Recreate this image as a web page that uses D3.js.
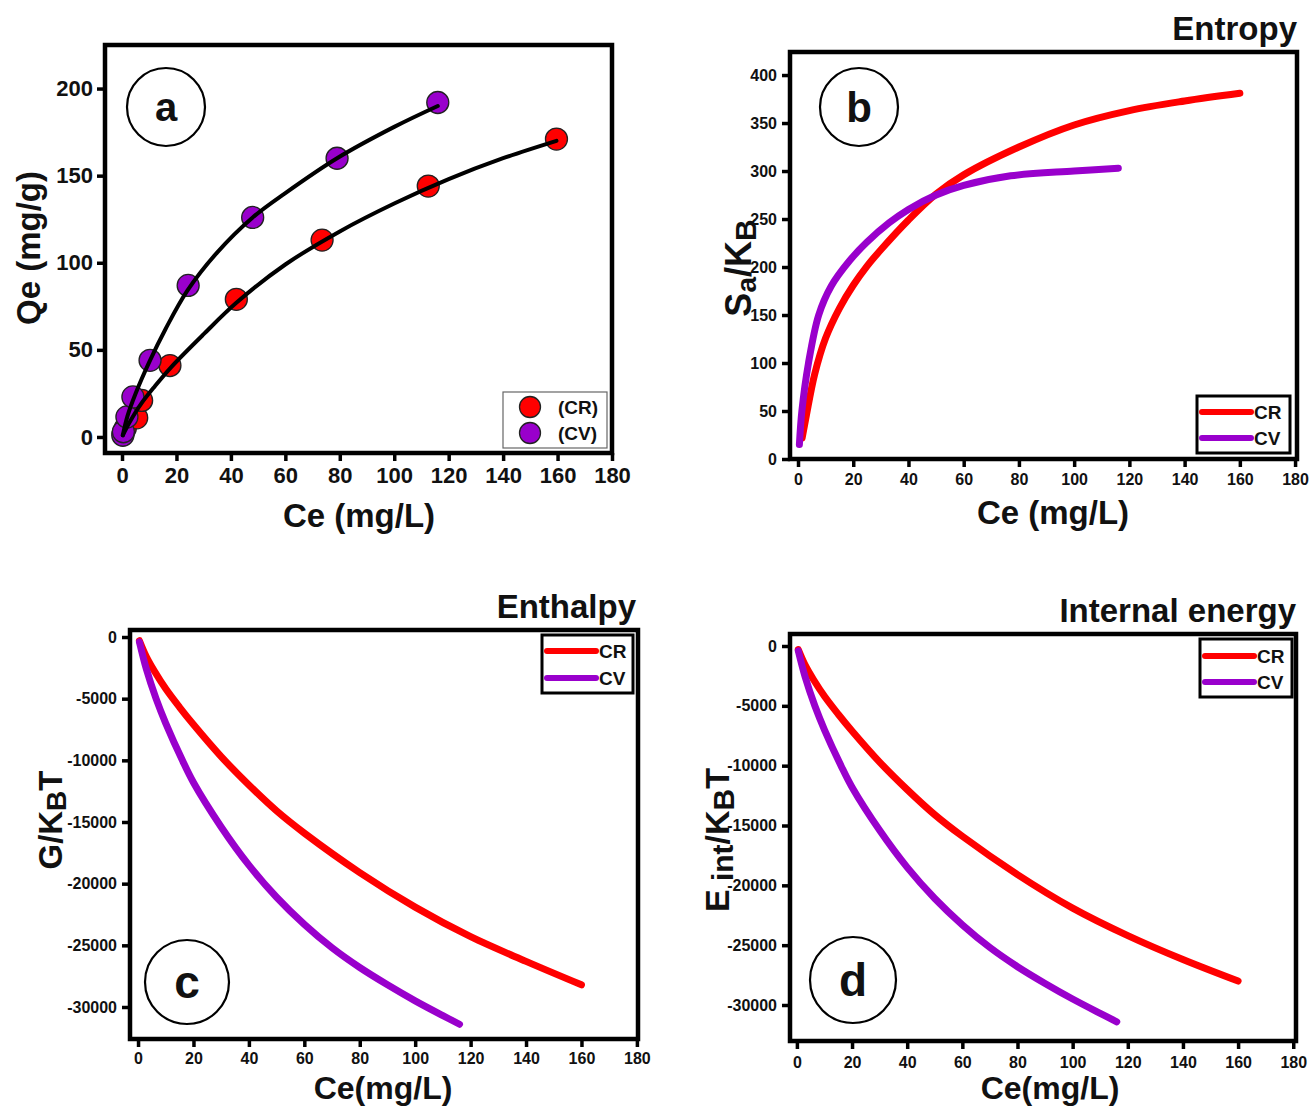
<!DOCTYPE html>
<html>
<head>
<meta charset="utf-8">
<script src="https://cdn.jsdelivr.net/npm/d3@7"></script>
<style>
  body { margin: 0; background: #ffffff; }
  text { font-family: Arial, "Liberation Sans", sans-serif; font-weight: bold; fill: #111; }
</style>
</head>
<body>
<svg id="chart" width="1310" height="1109"></svg>
<script>
// ---- data ----
let ceTicks = [0, 20, 40, 60, 80, 100, 120, 140, 160, 180]
let qeTicks = [0, 50, 100, 150, 200]
let saTicks = [0, 50, 100, 150, 200, 250, 300, 350, 400]
let energyTicks = [0, -5000, -10000, -15000, -20000, -25000, -30000]
let seriesNames = ['CR', 'CV']
let seriesColors = ['#ff0000', '#9900cc']

// (a) experimental isotherm points
let crCe = [0.4, 1.2, 5.4, 7.2, 17.6, 42, 73.5, 112.5, 159.6]
let crQe = [2, 5, 11, 21, 41, 79, 113, 144, 171]
let cvCe = [0.3, 0.5, 1.8, 4, 10.3, 24.3, 48, 79, 116]
let cvQe = [1, 3, 11.5, 23, 44, 87, 126, 160, 192]

// (a) fitted curves
let crFitCe = [0.3, 3, 7, 12, 18, 30, 42, 60, 80, 100, 120, 140, 159.6]
let crFitQe = [1, 9, 19, 29, 40, 59, 77, 99, 118, 134, 148, 160, 170]
let cvFitCe = [0.3, 2, 5, 10, 16, 24, 35, 48, 60, 79, 100, 116]
let cvFitQe = [1, 12, 25, 43, 62, 84, 106, 126, 140, 160, 178, 190]

// (b) entropy Sa/KB
let entCRce = [1.5, 3, 6, 10, 15, 20, 25, 30, 40, 50, 60, 80, 100, 120, 140, 160]
let entCR = [22, 45, 88, 126, 157, 181, 201, 218, 249, 276, 296, 325, 348, 363, 373, 381]
let entCVce = [0.5, 1.4, 3.8, 7.5, 12, 18.8, 25, 33, 40, 50, 60, 77, 100, 116]
let entCV = [15, 50, 100, 150, 180, 207, 226, 246, 260, 275, 285, 295, 300, 303]

// (c) enthalpy G/KBT
let gCRce = [0.5, 3, 6, 10, 15, 20, 30, 40, 50, 60, 80, 100, 120, 140, 160]
let gCR = [-300, -1600, -2800, -4200, -5700, -7100, -9700, -12000, -14100, -15900, -19100, -21900, -24300, -26300, -28200]
let gCVce = [0.5, 3, 6.5, 10, 16, 20, 30, 40, 50, 60, 70, 80, 90, 100, 110, 116]
let gCV = [-400, -2600, -5000, -7000, -10000, -11800, -15400, -18500, -21100, -23300, -25200, -26800, -28200, -29500, -30700, -31400]

// (d) internal energy E int/KBT
let eCRce = [0.5, 3, 6, 10, 15, 20, 30, 40, 50, 60, 80, 100, 120, 140, 160]
let eCR = [-300, -1600, -2800, -4200, -5700, -7100, -9700, -12000, -14100, -15900, -19100, -21900, -24200, -26200, -28000]
let eCVce = [0.5, 3, 6.5, 10, 16, 20, 30, 40, 50, 60, 70, 80, 90, 100, 110, 116]
let eCV = [-400, -2600, -5000, -7000, -10000, -11800, -15400, -18500, -21100, -23300, -25200, -26800, -28200, -29500, -30700, -31400]

let svg = d3.select('#chart')

// zip two arrays into point objects
function pts(xs, ys) {
    return xs.map((v, i) => ({ x: v, y: ys[i] }))
}

// build one framed panel with outward ticks
function makePanel(cfg) {
    let g = svg.append('g')
    let x = d3.scaleLinear().domain(cfg.xDomain).range([cfg.left, cfg.right])
    let y = d3.scaleLinear().domain(cfg.yDomain).range([cfg.bottom, cfg.top])

    let xAxis = g.append('g')
        .attr('transform', `translate(0,${cfg.bottom})`)
        .call(d3.axisBottom(x).tickValues(ceTicks).tickSize(8).tickPadding(cfg.xPad).tickFormat(d => String(d)))
    let yAxis = g.append('g')
        .attr('transform', `translate(${cfg.left},0)`)
        .call(d3.axisLeft(y).tickValues(cfg.yTicks).tickSize(8).tickPadding(cfg.yPad).tickFormat(d => String(d)))

    ;[xAxis, yAxis].forEach(ax => {
        ax.select('.domain').remove()
        ax.selectAll('line').attr('stroke', '#000').attr('stroke-width', 3.5)
        ax.selectAll('text')
            .attr('font-size', cfg.tickFont)
            .attr('font-family', 'Arial, "Liberation Sans", sans-serif')
            .attr('font-weight', 'bold')
            .attr('fill', '#111')
    })

    // frame
    g.append('rect')
        .attr('x', cfg.left)
        .attr('y', cfg.top)
        .attr('width', cfg.right - cfg.left)
        .attr('height', cfg.bottom - cfg.top)
        .attr('fill', 'none')
        .attr('stroke', '#000')
        .attr('stroke-width', 4.5)

    return { g: g, x: x, y: y }
}

// circled panel letter
function panelLetter(g, cx, cy, r, letter, size) {
    g.append('circle')
        .attr('cx', cx).attr('cy', cy).attr('r', r)
        .attr('fill', 'none').attr('stroke', '#000').attr('stroke-width', 2.2)
    g.append('text')
        .attr('x', cx).attr('y', cy)
        .attr('dy', '0.35em')
        .attr('text-anchor', 'middle')
        .attr('font-size', size)
        .text(letter)
}

// thick line legend used in b, c, d
function lineLegend(g, bx, by, bw, bh, rows) {
    g.append('rect')
        .attr('x', bx).attr('y', by).attr('width', bw).attr('height', bh)
        .attr('fill', '#fff').attr('stroke', '#000').attr('stroke-width', 3)
    seriesNames.forEach((name, i) => {
        g.append('line')
            .attr('x1', bx + 5).attr('x2', bx + 54)
            .attr('y1', rows[i]).attr('y2', rows[i])
            .attr('stroke', seriesColors[i]).attr('stroke-width', 6)
            .attr('stroke-linecap', 'round')
        g.append('text')
            .attr('x', bx + 57).attr('y', rows[i])
            .attr('dy', '0.36em')
            .attr('font-size', 19)
            .text(name)
    })
}

// draw thick coloured curves for one panel
function drawCurves(p, sets) {
    let line = d3.line().x(d => p.x(d.x)).y(d => p.y(d.y)).curve(d3.curveCatmullRom.alpha(0.5))
    sets.forEach((set, i) => {
        p.g.append('path')
            .attr('d', line(set))
            .attr('fill', 'none')
            .attr('stroke', seriesColors[i])
            .attr('stroke-width', 7)
            .attr('stroke-linecap', 'round')
    })
}

// ========== (a) adsorption isotherm ==========
let pa = makePanel({
    left: 105, right: 612, top: 45, bottom: 453,
    xDomain: [-6.25, 180], yDomain: [-9.2, 225],
    yTicks: qeTicks, tickFont: 22, xPad: 6, yPad: 4
})

let expSets = [pts(crCe, crQe), pts(cvCe, cvQe)]
expSets.forEach((set, i) => {
    pa.g.append('g').selectAll('circle')
        .data(set)
        .join('circle')
        .attr('cx', d => pa.x(d.x))
        .attr('cy', d => pa.y(d.y))
        .attr('r', 11)
        .attr('fill', seriesColors[i])
        .attr('stroke', '#222')
        .attr('stroke-width', 1.3)
})

let lineA = d3.line().x(d => pa.x(d.x)).y(d => pa.y(d.y)).curve(d3.curveCatmullRom.alpha(0.5))
;[pts(crFitCe, crFitQe), pts(cvFitCe, cvFitQe)].forEach(set => {
    pa.g.append('path')
        .attr('d', lineA(set))
        .attr('fill', 'none')
        .attr('stroke', '#000')
        .attr('stroke-width', 4)
        .attr('stroke-linecap', 'round')
})

// legend with markers
pa.g.append('rect')
    .attr('x', 503).attr('y', 392).attr('width', 104).attr('height', 56)
    .attr('fill', '#fff').attr('stroke', '#666').attr('stroke-width', 1.2)
seriesNames.forEach((name, i) => {
    let ly = 407 + i * 26
    pa.g.append('circle')
        .attr('cx', 530).attr('cy', ly).attr('r', 10.5)
        .attr('fill', seriesColors[i]).attr('stroke', '#222').attr('stroke-width', 1.3)
    pa.g.append('text')
        .attr('x', 558).attr('y', ly).attr('dy', '0.36em')
        .attr('font-size', 19)
        .text(`(${name})`)
})

panelLetter(pa.g, 166, 107, 39, 'a', 40)

pa.g.append('text')
    .attr('x', 359).attr('y', 527)
    .attr('text-anchor', 'middle')
    .attr('font-size', 33)
    .text('Ce (mg/L)')
pa.g.append('text')
    .attr('transform', 'translate(28,248) rotate(-90)')
    .attr('dy', '0.35em')
    .attr('text-anchor', 'middle')
    .attr('font-size', 33)
    .text('Qe (mg/g)')

// ========== (b) entropy ==========
let pb = makePanel({
    left: 790, right: 1297, top: 52, bottom: 459,
    xDomain: [-2.9, 180.7], yDomain: [0, 424],
    yTicks: saTicks, tickFont: 16, xPad: 7, yPad: 5
})

drawCurves(pb, [pts(entCRce, entCR), pts(entCVce, entCV)])

lineLegend(pb.g, 1197, 396, 93, 57, [412, 438])
panelLetter(pb.g, 859, 107, 39, 'b', 42)

pb.g.append('text')
    .attr('x', 1297).attr('y', 40)
    .attr('text-anchor', 'end')
    .attr('font-size', 33)
    .text('Entropy')
pb.g.append('text')
    .attr('x', 1053).attr('y', 524)
    .attr('text-anchor', 'middle')
    .attr('font-size', 33)
    .text('Ce (mg/L)')
let sLab = pb.g.append('text')
    .attr('transform', 'translate(740,268) rotate(-90)')
    .attr('dy', '0.3em')
    .attr('text-anchor', 'middle')
    .attr('font-size', 36)
sLab.append('tspan').text('S')
sLab.append('tspan').attr('font-size', 28).attr('baseline-shift', '-18%').text('a')
sLab.append('tspan').text('/K')
sLab.append('tspan').attr('font-size', 30).attr('baseline-shift', '-18%').text('B')

// ========== (c) enthalpy ==========
let pc = makePanel({
    left: 130, right: 638, top: 630, bottom: 1039,
    xDomain: [-2.9, 180.4], yDomain: [-32595, 568],
    yTicks: energyTicks, tickFont: 16, xPad: 6, yPad: 5
})

drawCurves(pc, [pts(gCRce, gCR), pts(gCVce, gCV)])

lineLegend(pc.g, 542, 635, 91, 58, [651, 678])
panelLetter(pc.g, 187, 982, 42, 'c', 46)

pc.g.append('text')
    .attr('x', 636).attr('y', 618)
    .attr('text-anchor', 'end')
    .attr('font-size', 33)
    .text('Enthalpy')
pc.g.append('text')
    .attr('x', 383).attr('y', 1099)
    .attr('text-anchor', 'middle')
    .attr('font-size', 32)
    .text('Ce(mg/L)')
let gLab = pc.g.append('text')
    .attr('transform', 'translate(50,820) rotate(-90)')
    .attr('dy', '0.35em')
    .attr('text-anchor', 'middle')
    .attr('font-size', 33)
gLab.append('tspan').text('G/K')
gLab.append('tspan').attr('font-size', 28).attr('baseline-shift', '-15%').text('B')
gLab.append('tspan').text('T')

// ========== (d) internal energy ==========
let pd = makePanel({
    left: 790, right: 1296, top: 634, bottom: 1041,
    xDomain: [-2.5, 181], yDomain: [-33008, 1003],
    yTicks: energyTicks, tickFont: 16, xPad: 8, yPad: 5
})

drawCurves(pd, [pts(eCRce, eCR), pts(eCVce, eCV)])

lineLegend(pd.g, 1200, 639, 92, 58, [656, 682])
panelLetter(pd.g, 853, 980, 43, 'd', 46)

pd.g.append('text')
    .attr('x', 1296).attr('y', 622)
    .attr('text-anchor', 'end')
    .attr('font-size', 33)
    .text('Internal energy')
pd.g.append('text')
    .attr('x', 1050).attr('y', 1099)
    .attr('text-anchor', 'middle')
    .attr('font-size', 32)
    .text('Ce(mg/L)')
let eLab = pd.g.append('text')
    .attr('transform', 'translate(717,840) rotate(-90)')
    .attr('dy', '0.35em')
    .attr('text-anchor', 'middle')
    .attr('font-size', 34)
eLab.append('tspan').text('E')
eLab.append('tspan').attr('font-size', 30).attr('baseline-shift', '-12%').text(' int')
eLab.append('tspan').text('/K')
eLab.append('tspan').attr('font-size', 30).attr('baseline-shift', '-15%').text('B')
eLab.append('tspan').text('T')
</script>
</body>
</html>
